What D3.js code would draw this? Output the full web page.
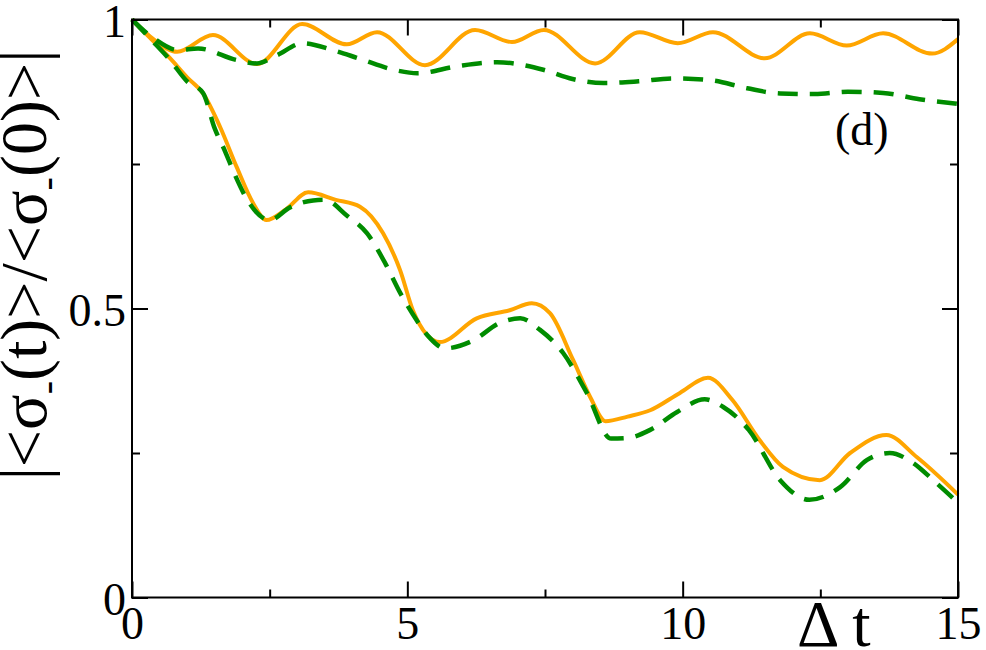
<!DOCTYPE html>
<html><head><meta charset="utf-8">
<script src="https://cdn.jsdelivr.net/npm/d3@7"></script>
<style>
html,body{margin:0;padding:0;background:#fff;}
svg{display:block;}
text{font-family:"Liberation Serif","Times New Roman",serif;fill:#000;}
</style></head>
<body>
<svg id="chart" width="986" height="650"></svg>
<script>
// ---- data ----
const xMajorTicks = [0, 5, 10, 15];
const xMinorTicks = [2.5, 7.5, 12.5];
const yMajorTicks = [0, 0.5, 1];
const yMinorTicks = [0.25, 0.75];
const xTickLabels = ["0", "5", "10", "15"];
const yTickLabels = ["0", "0.5", "1"];

// upper solid (orange)
const upperSolidT = [0,0.4,0.82,1.47,2.27,3.09,3.9,4.45,5.32,6.23,6.9,7.48,8.41,9.22,9.91,10.55,11.49,12.31,12.98,13.64,14.53,15];
const upperSolidV = [1.0,0.965,0.944,0.973,0.923,0.992,0.957,0.978,0.921,0.982,0.961,0.982,0.924,0.978,0.959,0.978,0.933,0.976,0.955,0.976,0.941,0.966];
// upper dashed (green)
const upperDashT = [0,0.4,0.84,1.2,1.9,2.27,2.63,3.1,3.65,4.14,4.8,5.18,5.9,6.63,7.47,8.0,8.56,9.2,9.82,10.5,11.17,11.77,12.4,13.0,13.64,14.3,15];
const upperDashV = [1.0,0.967,0.947,0.95,0.93,0.924,0.938,0.959,0.947,0.932,0.912,0.907,0.919,0.926,0.913,0.897,0.89,0.893,0.898,0.895,0.881,0.872,0.871,0.875,0.873,0.862,0.854];
// lower solid (orange)
const lowerSolidT = [0,0.35,0.69,1.0,1.29,1.6,1.9,2.2,2.44,2.8,3.2,3.7,4.14,4.56,4.87,5.1,5.35,5.59,6.26,6.86,7.26,7.59,8.01,8.32,8.6,9.0,9.41,9.95,10.46,10.9,11.4,11.82,12.49,13.04,13.7,14.25,15];
const lowerSolidV = [1.0,0.966,0.933,0.9,0.872,0.814,0.745,0.682,0.653,0.672,0.701,0.688,0.676,0.63,0.566,0.497,0.455,0.442,0.483,0.497,0.509,0.492,0.411,0.347,0.305,0.313,0.324,0.354,0.38,0.342,0.272,0.226,0.203,0.25,0.281,0.243,0.178];
// lower dashed (green)
const lowerDashT = [0,0.35,0.69,1.0,1.29,1.5,1.69,1.87,2.1,2.5,2.87,3.29,3.5,3.9,4.27,4.6,4.87,5.1,5.4,5.68,6.2,6.68,7.05,7.41,7.83,8.26,8.7,9.0,9.41,9.9,10.4,10.73,11.2,11.77,12.3,12.86,13.35,13.76,14.18,14.55,15];
const lowerDashV = [1.0,0.965,0.93,0.893,0.873,0.812,0.772,0.731,0.687,0.653,0.675,0.687,0.688,0.661,0.63,0.578,0.527,0.49,0.45,0.431,0.445,0.475,0.483,0.463,0.423,0.354,0.275,0.276,0.29,0.321,0.343,0.33,0.29,0.203,0.169,0.191,0.238,0.25,0.233,0.203,0.164];

const orange = "#ffa500", green = "#008c00";

// ---- layout ----
const svg = d3.select("#chart");
const L = 132, R = 958, T = 19.5, B = 597.5;
const x = d3.scaleLinear().domain([0, 15]).range([L, R]);
const y = d3.scaleLinear().domain([0, 1]).range([B, T]);

const line = d3.line().x(d => x(d[0])).y(d => y(d[1])).curve(d3.curveMonotoneX);
const zip = (a, b) => a.map((v, i) => [v, b[i]]);

const plot = svg.append("g");
plot.append("path").datum(zip(upperSolidT, upperSolidV)).attr("d", line)
  .attr("fill", "none").attr("stroke", orange).attr("stroke-width", 4);
plot.append("path").datum(zip(lowerSolidT, lowerSolidV)).attr("d", line)
  .attr("fill", "none").attr("stroke", orange).attr("stroke-width", 4);
plot.append("path").datum(zip(upperDashT, upperDashV)).attr("d", line)
  .attr("fill", "none").attr("stroke", green).attr("stroke-width", 4.5).attr("stroke-dasharray", "20,12");
plot.append("path").datum(zip(lowerDashT, lowerDashV)).attr("d", line)
  .attr("fill", "none").attr("stroke", green).attr("stroke-width", 4.5).attr("stroke-dasharray", "20,12");

// ---- axes (inward ticks on all sides) ----
function styleAxis(g) {
  g.select(".domain").remove();
  g.selectAll(".tick line").attr("stroke", "#000").attr("stroke-width", 2);
  g.selectAll("text").style("font-family", '"Liberation Serif","Times New Roman",serif').attr("font-size", 46).attr("fill", "#000");
}
svg.append("g").attr("transform", `translate(0,${B})`)
  .call(d3.axisBottom(x).tickValues(xMajorTicks).tickSize(-16).tickPadding(9)
    .tickFormat((d, i) => xTickLabels[i]))
  .call(styleAxis);
svg.append("g").attr("transform", `translate(0,${B})`)
  .call(d3.axisBottom(x).tickValues(xMinorTicks).tickSize(-8).tickFormat(""))
  .call(styleAxis);
svg.append("g").attr("transform", `translate(0,${T})`)
  .call(d3.axisTop(x).tickValues(xMajorTicks).tickSize(-16).tickFormat(""))
  .call(styleAxis);
svg.append("g").attr("transform", `translate(0,${T})`)
  .call(d3.axisTop(x).tickValues(xMinorTicks).tickSize(-8).tickFormat(""))
  .call(styleAxis);
const yl = svg.append("g").attr("transform", `translate(${L},0)`)
  .call(d3.axisLeft(y).tickValues(yMajorTicks).tickSize(-16).tickPadding(6)
    .tickFormat((d, i) => yTickLabels[i]))
  .call(styleAxis);
yl.selectAll("text").attr("dy", "0.38em");
svg.append("g").attr("transform", `translate(${L},0)`)
  .call(d3.axisLeft(y).tickValues(yMinorTicks).tickSize(-8).tickFormat(""))
  .call(styleAxis);
svg.append("g").attr("transform", `translate(${R},0)`)
  .call(d3.axisRight(y).tickValues(yMajorTicks).tickSize(-16).tickFormat(""))
  .call(styleAxis);
svg.append("g").attr("transform", `translate(${R},0)`)
  .call(d3.axisRight(y).tickValues(yMinorTicks).tickSize(-8).tickFormat(""))
  .call(styleAxis);

// frame
svg.append("rect").attr("x", L).attr("y", T).attr("width", R - L).attr("height", B - T)
  .attr("fill", "none").attr("stroke", "#000").attr("stroke-width", 2);

// x title
svg.append("text").attr("x", 797).attr("y", 646).attr("font-size", 66).text("Δ t");

// panel label
svg.append("text").attr("x", 835).attr("y", 145).attr("font-size", 46).text("(d)");

// y title
const yt = svg.append("text").attr("transform", "translate(46,265) rotate(-90)")
  .attr("text-anchor", "middle").attr("font-size", 66);
yt.append("tspan").text("|<σ");
yt.append("tspan").attr("font-size", 40).attr("dy", 14).text("-");
yt.append("tspan").attr("dy", -14).text("(t)>/<σ");
yt.append("tspan").attr("font-size", 40).attr("dy", 14).text("-");
yt.append("tspan").attr("dy", -14).text("(0)>|");
</script>
</body></html>
